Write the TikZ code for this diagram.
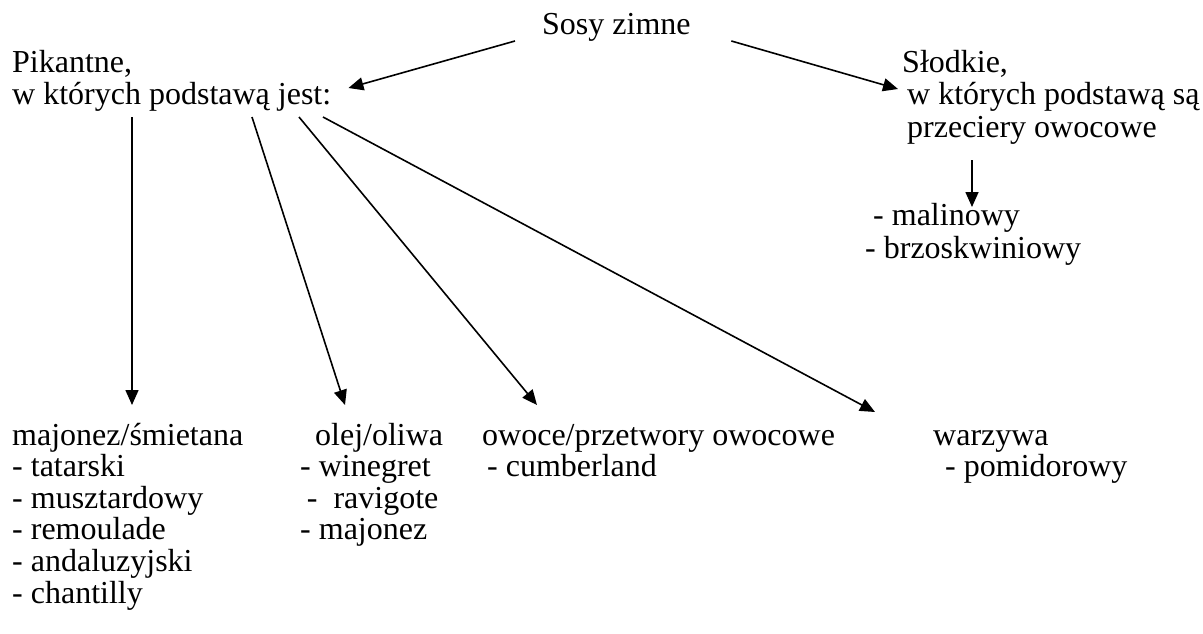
\documentclass[tikz,border=0pt]{standalone}
\usepackage{fontspec}
\setmainfont{Liberation Serif}
\usetikzlibrary{arrows.meta,calc}
\tikzset{
    txt/.style={anchor=base west, inner sep=0pt, font=\fontsize{32pt}{32pt}\selectfont},
    arrow/.style={-{Triangle[length=15pt,width=13pt]}, line width=1.6pt}
}

\begin{document}
\begin{tikzpicture}[x=1pt, y=-1pt]
  \useasboundingbox (0,0) rectangle (1203,634);

  % top of the tree
  \node[txt] (sosy) at (542,35) {Sosy zimne};

  % left branch
  \node[txt] (pik1) at (12,72.5) {Pikantne,};
  \node[txt] (pik2) at (12,105) {w których podstawą jest:};

  % right branch
  \node[txt] (slo1) at (902,72.5) {Słodkie,};
  \node[txt] (slo2) at (907,105) {w których podstawą są};
  \node[txt] (slo3) at (907,137.5) {przeciery owocowe};
  \node[txt] (mal) at (873,225) {- malinowy};
  \node[txt] (brz) at (865,258) {- brzoskwiniowy};

  % bottom row
  \node[txt] (maj) at (12,445) {majonez/śmietana};
  \node[txt] (maj1) at (12,476.6) {- tatarski};
  \node[txt] (maj2) at (12,508.2) {- musztardowy};
  \node[txt] (maj3) at (12,539.8) {- remoulade};
  \node[txt] (maj4) at (12,571.4) {- andaluzyjski};
  \node[txt] (maj5) at (12,603) {- chantilly};

  \node[txt] (olej) at (315,445) {olej/oliwa};
  \node[txt] (olej1) at (300,476.6) {- winegret};
  \node[txt] (olej2) at (306.7,508.2) {-\ \ ravigote};
  \node[txt] (olej3) at (300,539.8) {- majonez};

  \node[txt] (owo) at (482,445) {owoce/przetwory owocowe};
  \node[txt] (owo1) at (487,476.6) {- cumberland};

  \node[txt] (warz) at (933,445) {warzywa};
  \node[txt] (warz1) at (945,476.6) {- pomidorowy};

  % arrows
  \draw[arrow] ($(sosy.base west)+(-27,6)$) -- ($(pik2.base east)+(17,-17)$);
  \draw[arrow] ($(sosy.base east)+(40.5,6)$) -- ($(slo1.base west)+(-4,16.5)$);
  \draw[arrow] ($(slo3.base west)+(65,22.5)$) -- ($(mal.base west)+(99,-18)$);

  \draw[arrow] ($(pik2.base west)+(120,12)$) -- ($(maj.base west)+(120,-40)$);
  \draw[arrow] ($(pik2.base west)+(240,12)$) -- ($(olej.base west)+(30,-40)$);
  \draw[arrow] ($(pik2.base west)+(287,12)$) -- ($(owo.base west)+(55,-40)$);
  \draw[arrow] ($(pik2.base west)+(311,12)$) -- ($(warz.base west)+(-58,-33)$);
\end{tikzpicture}
\end{document}
